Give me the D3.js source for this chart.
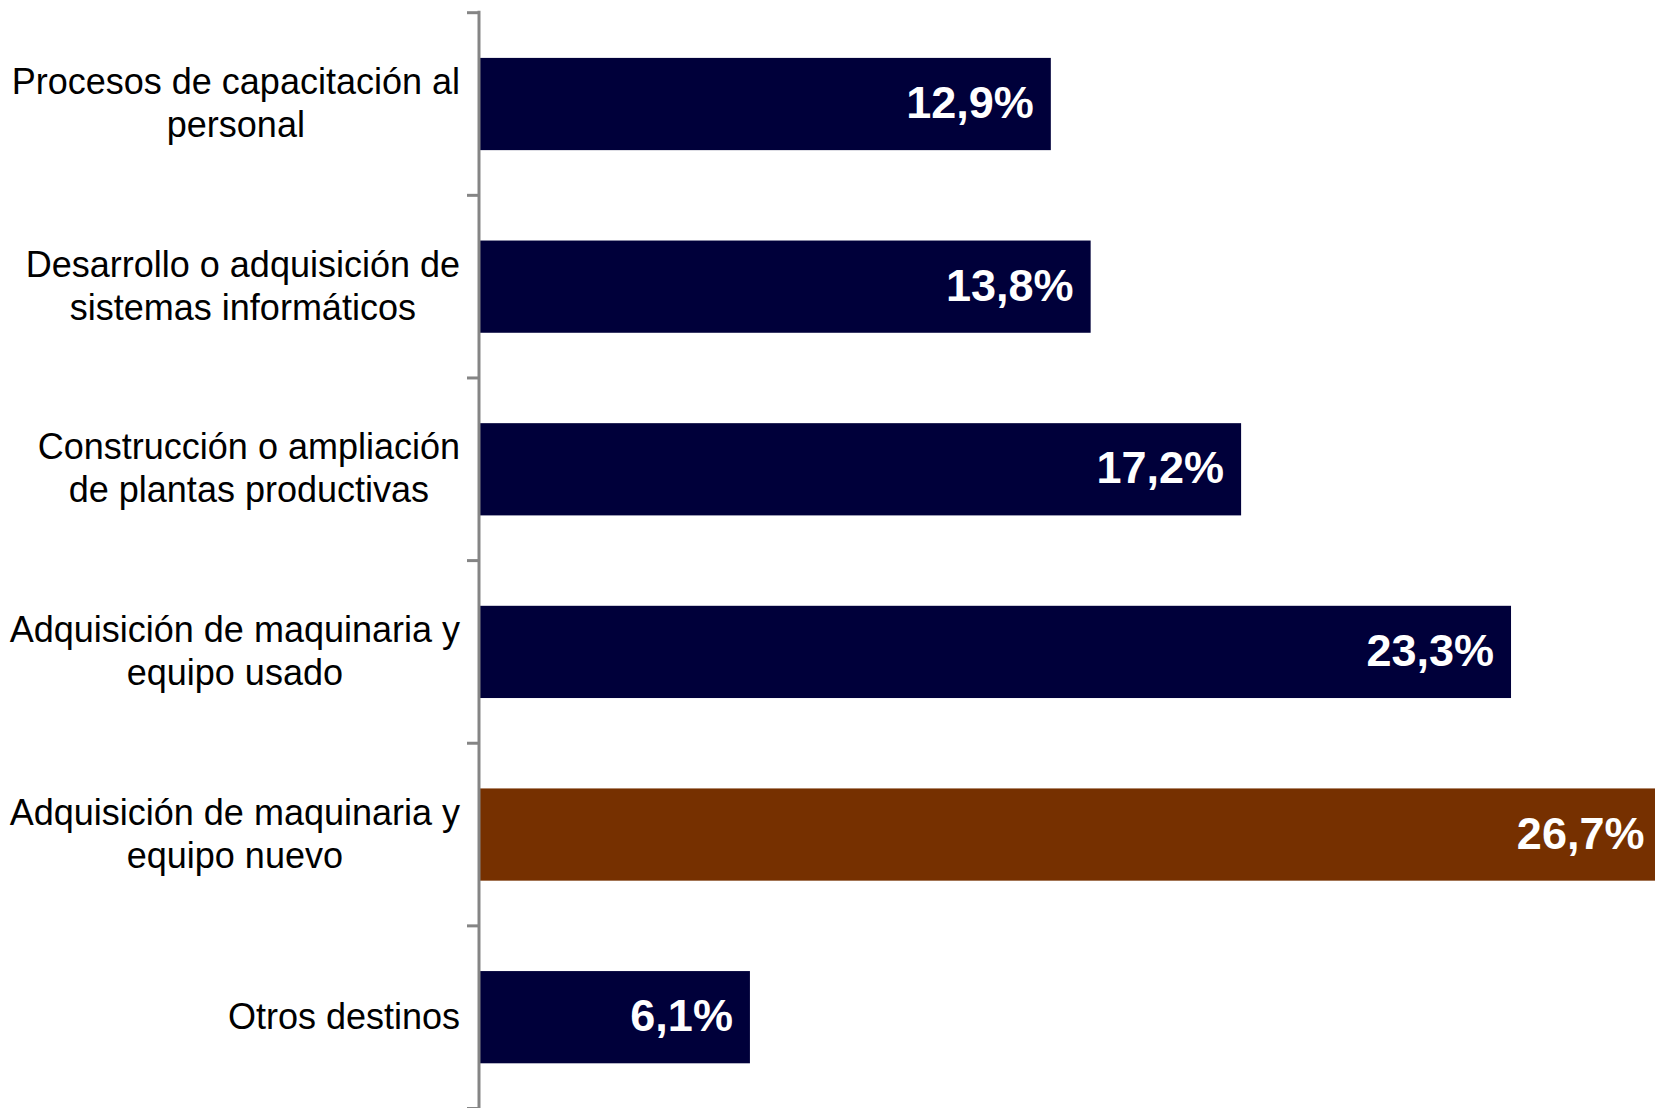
<!DOCTYPE html>
<html>
<head>
<meta charset="utf-8">
<script src="https://cdn.jsdelivr.net/npm/d3@7"></script>
<style>
html,body{margin:0;padding:0;background:#fff;}
svg{display:block;}
</style>
</head>
<body>
<svg id="chart" width="1655" height="1108"></svg>
<script>
const categories = [
  ["Procesos de capacitación al", "personal"],
  ["Desarrollo o adquisición de", "sistemas informáticos"],
  ["Construcción o ampliación", "de plantas productivas"],
  ["Adquisición de maquinaria y", "equipo usado"],
  ["Adquisición de maquinaria y", "equipo nuevo"],
  ["Otros destinos"]
];
const values = [12.9, 13.8, 17.2, 23.3, 26.7, 6.1];
const valueLabels = ["12,9%", "13,8%", "17,2%", "23,3%", "26,7%", "6,1%"];
const highlight = [false, false, false, false, true, false];

(function () {
const W = 1655, H = 1108;
const svg = d3.select("#chart");
const axisX = 479;
const plotTop = 12.7, plotBottom = 1108.5;

const idx = d3.range(categories.length);
const y = d3.scaleBand().domain(idx).range([plotTop, plotBottom]).paddingInner(0.495).paddingOuter(0.2475);
const x = d3.scaleLinear().domain([0, 30]).range([axisX + 1, axisX + 1 + 30 * 44.25]);

svg.selectAll("rect.bar").data(idx).enter().append("rect")
  .attr("class", "bar")
  .attr("x", x(0))
  .attr("y", i => y(i))
  .attr("width", i => x(values[i]) - x(0))
  .attr("height", y.bandwidth())
  .attr("fill", i => highlight[i] ? "#763000" : "#00003a");

svg.selectAll("text.val").data(idx).enter().append("text")
  .attr("class", "val")
  .attr("x", i => x(values[i]) - 17)
  .attr("y", i => y(i) + y.bandwidth() / 2)
  .attr("dy", "0.31em")
  .attr("text-anchor", "end")
  .attr("font-family", "'Liberation Sans', Arial, sans-serif")
  .attr("font-weight", "bold")
  .attr("font-size", 45)
  .attr("fill", "#ffffff")
  .text(i => valueLabels[i]);

const step = y.step();
const tickPos = d3.range(categories.length + 1).map(k => plotTop + k * step);
svg.append("line")
  .attr("x1", axisX).attr("x2", axisX)
  .attr("y1", plotTop - 2).attr("y2", H + 2)
  .attr("stroke", "#858585").attr("stroke-width", 3);
svg.selectAll("line.tick").data(tickPos).enter().append("line")
  .attr("class", "tick")
  .attr("x1", axisX - 12).attr("x2", axisX)
  .attr("y1", d => d).attr("y2", d => d)
  .attr("stroke", "#858585").attr("stroke-width", 3);

const labelRight = 460;
const lineH = 43;
idx.forEach(i => {
  const lines = categories[i];
  const g = svg.append("text")
    .attr("font-family", "'Liberation Sans', Arial, sans-serif")
    .attr("font-size", 36)
    .attr("fill", "#000")
    .attr("text-anchor", "middle");
  const cy = y(i) + y.bandwidth() / 2 - 1;
  const tspans = lines.map((t, k) => g.append("tspan")
    .attr("y", cy + (k - (lines.length - 1) / 2) * lineH)
    .attr("dy", "0.35em")
    .text(t));
  const maxW = d3.max(tspans, ts => ts.node().getComputedTextLength());
  const cx = labelRight - maxW / 2;
  tspans.forEach(ts => ts.attr("x", cx));
});
})();
</script>
</body>
</html>
